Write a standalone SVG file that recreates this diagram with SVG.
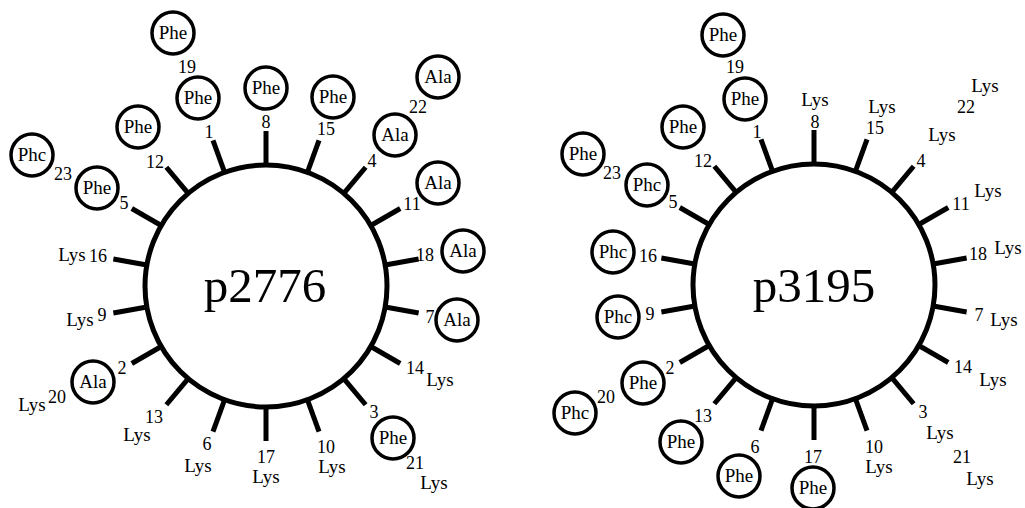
<svg xmlns="http://www.w3.org/2000/svg" width="1025" height="508" viewBox="0 0 1025 508">
<style>
.ring{fill:none;stroke:#000;stroke-width:5}
.spoke line{stroke:#000;stroke-width:5}
circle.aa{fill:#fff;stroke:#000;stroke-width:3.5}
text{font-family:"Liberation Serif","Times New Roman",serif;fill:#000;text-anchor:middle}
.n{font-size:18px}
.r{font-size:19px}
.t{font-size:49px}
</style>
<rect width="1025" height="508" fill="#fff"/>
<g id="connectors">
 <g class="spoke" transform="translate(266,286)">
  <line x1="0" y1="-121" x2="0" y2="-155" transform="rotate(340)"/>
  <line x1="0" y1="-121" x2="0" y2="-155" transform="rotate(240)"/>
  <line x1="0" y1="-121" x2="0" y2="-155" transform="rotate(140)"/>
  <line x1="0" y1="-121" x2="0" y2="-155" transform="rotate(40)"/>
  <line x1="0" y1="-121" x2="0" y2="-155" transform="rotate(300)"/>
  <line x1="0" y1="-121" x2="0" y2="-155" transform="rotate(200)"/>
  <line x1="0" y1="-121" x2="0" y2="-155" transform="rotate(100)"/>
  <line x1="0" y1="-121" x2="0" y2="-155" transform="rotate(0)"/>
  <line x1="0" y1="-121" x2="0" y2="-155" transform="rotate(260)"/>
  <line x1="0" y1="-121" x2="0" y2="-155" transform="rotate(160)"/>
  <line x1="0" y1="-121" x2="0" y2="-155" transform="rotate(60)"/>
  <line x1="0" y1="-121" x2="0" y2="-155" transform="rotate(320)"/>
  <line x1="0" y1="-121" x2="0" y2="-155" transform="rotate(220)"/>
  <line x1="0" y1="-121" x2="0" y2="-155" transform="rotate(120)"/>
  <line x1="0" y1="-121" x2="0" y2="-155" transform="rotate(20)"/>
  <line x1="0" y1="-121" x2="0" y2="-155" transform="rotate(280)"/>
  <line x1="0" y1="-121" x2="0" y2="-155" transform="rotate(180)"/>
  <line x1="0" y1="-121" x2="0" y2="-155" transform="rotate(80)"/>
 </g>
 <g class="spoke" transform="translate(814,285)">
  <line x1="0" y1="-121" x2="0" y2="-155" transform="rotate(340)"/>
  <line x1="0" y1="-121" x2="0" y2="-155" transform="rotate(240)"/>
  <line x1="0" y1="-121" x2="0" y2="-155" transform="rotate(140)"/>
  <line x1="0" y1="-121" x2="0" y2="-155" transform="rotate(40)"/>
  <line x1="0" y1="-121" x2="0" y2="-155" transform="rotate(300)"/>
  <line x1="0" y1="-121" x2="0" y2="-155" transform="rotate(200)"/>
  <line x1="0" y1="-121" x2="0" y2="-155" transform="rotate(100)"/>
  <line x1="0" y1="-121" x2="0" y2="-155" transform="rotate(0)"/>
  <line x1="0" y1="-121" x2="0" y2="-155" transform="rotate(260)"/>
  <line x1="0" y1="-121" x2="0" y2="-155" transform="rotate(160)"/>
  <line x1="0" y1="-121" x2="0" y2="-155" transform="rotate(60)"/>
  <line x1="0" y1="-121" x2="0" y2="-155" transform="rotate(320)"/>
  <line x1="0" y1="-121" x2="0" y2="-155" transform="rotate(220)"/>
  <line x1="0" y1="-121" x2="0" y2="-155" transform="rotate(120)"/>
  <line x1="0" y1="-121" x2="0" y2="-155" transform="rotate(20)"/>
  <line x1="0" y1="-121" x2="0" y2="-155" transform="rotate(280)"/>
  <line x1="0" y1="-121" x2="0" y2="-155" transform="rotate(180)"/>
  <line x1="0" y1="-121" x2="0" y2="-155" transform="rotate(80)"/>
 </g>
</g>

<g id="p2776">
 <circle class="ring" cx="266" cy="286" r="121"/>
 <text class="t" x="265" y="302">p2776</text>
</g>
<g id="p2776-r1"><text class="n" x="209" y="138">1</text><circle class="aa" cx="198" cy="98" r="21"/><text class="r" x="198" y="104">Phe</text></g>
<g id="p2776-r2"><text class="n" x="122" y="374">2</text><circle class="aa" cx="93" cy="382" r="21"/><text class="r" x="93" y="388">Ala</text></g>
<g id="p2776-r3"><text class="n" x="374" y="418">3</text><circle class="aa" cx="393" cy="438" r="21"/><text class="r" x="393" y="444">Phe</text></g>
<g id="p2776-r4"><text class="n" x="372" y="167">4</text><circle class="aa" cx="395" cy="135" r="21"/><text class="r" x="395" y="141">Ala</text></g>
<g id="p2776-r5"><text class="n" x="124" y="209">5</text><circle class="aa" cx="97" cy="188" r="21"/><text class="r" x="97" y="194">Phe</text></g>
<g id="p2776-r6"><text class="n" x="207" y="450">6</text><text class="r" x="198" y="472">Lys</text></g>
<g id="p2776-r7"><text class="n" x="430" y="323">7</text><circle class="aa" cx="457" cy="320" r="21"/><text class="r" x="457" y="326">Ala</text></g>
<g id="p2776-r8"><text class="n" x="266" y="128">8</text><circle class="aa" cx="266" cy="88" r="21"/><text class="r" x="266" y="94">Phe</text></g>
<g id="p2776-r9"><text class="n" x="102" y="321">9</text><text class="r" x="80" y="326">Lys</text></g>
<g id="p2776-r10"><text class="n" x="326" y="453">10</text><text class="r" x="332" y="473">Lys</text></g>
<g id="p2776-r11"><text class="n" x="412" y="210">11</text><circle class="aa" cx="438" cy="183" r="21"/><text class="r" x="438" y="189">Ala</text></g>
<g id="p2776-r12"><text class="n" x="155" y="168">12</text><circle class="aa" cx="138" cy="127" r="21"/><text class="r" x="138" y="133">Phe</text></g>
<g id="p2776-r13"><text class="n" x="154" y="423">13</text><text class="r" x="137" y="441">Lys</text></g>
<g id="p2776-r14"><text class="n" x="415" y="374">14</text><text class="r" x="440" y="386">Lys</text></g>
<g id="p2776-r15"><text class="n" x="326" y="135">15</text><circle class="aa" cx="333" cy="97" r="21"/><text class="r" x="333" y="103">Phe</text></g>
<g id="p2776-r16"><text class="n" x="98" y="262">16</text><text class="r" x="72" y="261">Lys</text></g>
<g id="p2776-r17"><text class="n" x="266" y="463">17</text><text class="r" x="266" y="483">Lys</text></g>
<g id="p2776-r18"><text class="n" x="425" y="261">18</text><circle class="aa" cx="463" cy="251" r="21"/><text class="r" x="463" y="257">Ala</text></g>
<g id="p2776-r19"><text class="n" x="187" y="73">19</text><circle class="aa" cx="173" cy="33" r="21"/><text class="r" x="173" y="39">Phe</text></g>
<g id="p2776-r20"><text class="n" x="57" y="403">20</text><text class="r" x="32" y="411">Lys</text></g>
<g id="p2776-r21"><text class="n" x="415" y="469">21</text><text class="r" x="434" y="489">Lys</text></g>
<g id="p2776-r22"><text class="n" x="418" y="113">22</text><circle class="aa" cx="438" cy="77" r="21"/><text class="r" x="438" y="83">Ala</text></g>
<g id="p2776-r23"><text class="n" x="63" y="180">23</text><circle class="aa" cx="32" cy="155" r="21"/><text class="r" x="32" y="161">Phc</text></g>

<g id="p3195">
 <circle class="ring" cx="814" cy="285" r="121"/>
 <text class="t" x="814" y="302">p3195</text>
</g>
<g id="p3195-r1"><text class="n" x="757" y="138">1</text><circle class="aa" cx="745" cy="99" r="21"/><text class="r" x="745" y="105">Phe</text></g>
<g id="p3195-r2"><text class="n" x="670" y="374">2</text><circle class="aa" cx="643" cy="383" r="21"/><text class="r" x="643" y="389">Phe</text></g>
<g id="p3195-r3"><text class="n" x="923" y="418">3</text><text class="r" x="940" y="439">Lys</text></g>
<g id="p3195-r4"><text class="n" x="921" y="167">4</text><text class="r" x="942" y="141">Lys</text></g>
<g id="p3195-r5"><text class="n" x="673" y="208">5</text><circle class="aa" cx="647" cy="185" r="21"/><text class="r" x="647" y="191">Phc</text></g>
<g id="p3195-r6"><text class="n" x="755" y="453">6</text><circle class="aa" cx="739" cy="476" r="21"/><text class="r" x="739" y="482">Phe</text></g>
<g id="p3195-r7"><text class="n" x="979" y="321">7</text><text class="r" x="1004" y="326">Lys</text></g>
<g id="p3195-r8"><text class="n" x="815" y="128">8</text><text class="r" x="815" y="106">Lys</text></g>
<g id="p3195-r9"><text class="n" x="650" y="320">9</text><circle class="aa" cx="618" cy="317" r="21"/><text class="r" x="618" y="323">Phc</text></g>
<g id="p3195-r10"><text class="n" x="874" y="453">10</text><text class="r" x="879" y="473">Lys</text></g>
<g id="p3195-r11"><text class="n" x="961" y="210">11</text><text class="r" x="988" y="197">Lys</text></g>
<g id="p3195-r12"><text class="n" x="703" y="167">12</text><circle class="aa" cx="683" cy="127" r="21"/><text class="r" x="683" y="133">Phe</text></g>
<g id="p3195-r13"><text class="n" x="703" y="422">13</text><circle class="aa" cx="681" cy="442" r="21"/><text class="r" x="681" y="448">Phe</text></g>
<g id="p3195-r14"><text class="n" x="963" y="373">14</text><text class="r" x="993" y="386">Lys</text></g>
<g id="p3195-r15"><text class="n" x="875" y="134">15</text><text class="r" x="882" y="113">Lys</text></g>
<g id="p3195-r16"><text class="n" x="648" y="262">16</text><circle class="aa" cx="613" cy="252" r="21"/><text class="r" x="613" y="258">Phc</text></g>
<g id="p3195-r17"><text class="n" x="813" y="463">17</text><circle class="aa" cx="813" cy="488" r="21"/><text class="r" x="813" y="494">Phe</text></g>
<g id="p3195-r18"><text class="n" x="978" y="260">18</text><text class="r" x="1008" y="254">Lys</text></g>
<g id="p3195-r19"><text class="n" x="735" y="73">19</text><circle class="aa" cx="723" cy="35" r="21"/><text class="r" x="723" y="41">Phe</text></g>
<g id="p3195-r20"><text class="n" x="606" y="403">20</text><circle class="aa" cx="575" cy="413" r="21"/><text class="r" x="575" y="419">Phc</text></g>
<g id="p3195-r21"><text class="n" x="962" y="463">21</text><text class="r" x="980" y="485">Lys</text></g>
<g id="p3195-r22"><text class="n" x="966" y="113">22</text><text class="r" x="985" y="92">Lys</text></g>
<g id="p3195-r23"><text class="n" x="612" y="179">23</text><circle class="aa" cx="583" cy="154" r="21"/><text class="r" x="583" y="160">Phe</text></g>
</svg>
